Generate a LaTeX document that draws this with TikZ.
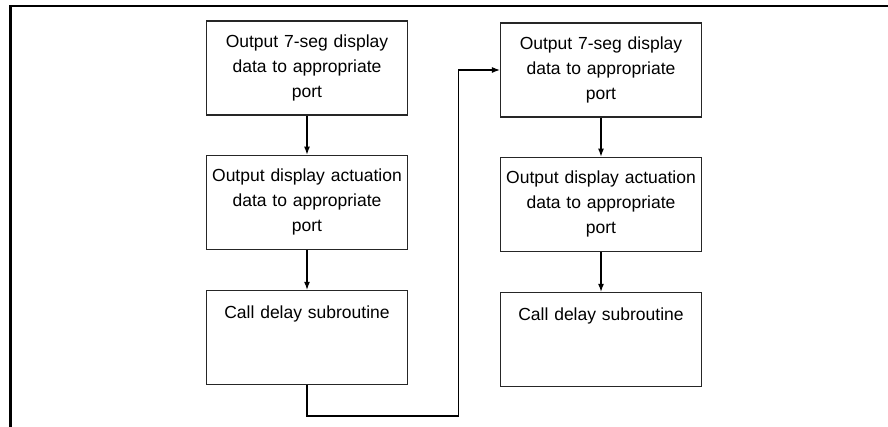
\documentclass[tikz,border=0pt]{standalone}
\usepackage{fontspec}
\setmainfont{Liberation Sans}
\usepackage{tikz}
\usetikzlibrary{arrows.meta,positioning}

\tikzset{
  stepbox/.style={draw=black!85,line width=1.2pt,minimum width=201pt,minimum height=94pt,
    text width=195pt,inner xsep=3pt,align=center,
    font=\fontsize{17.5pt}{25pt}\selectfont},
  flow/.style={->,line width=1.1pt}
}

\begin{document}
\begin{tikzpicture}[x=1pt,y=1pt,node distance=39pt,>={Latex[length=8pt,width=6pt]}]
  \useasboundingbox (0,0) rectangle (888,427);

  % Frame
  \draw[line width=2.5pt] (888,421) -- (10.5,421) -- (10.5,0);

  % Left column
  \node[stepbox] (seg1) at (307,359) {Output 7-seg display\\data to appropriate\\port};
  \node[stepbox,below=of seg1] (act1) {Output display actuation\\data to appropriate\\port};
  \node[stepbox,below=40pt of act1] (delay1) {Call delay subroutine\\\mbox{}\\\mbox{}};

  % Right column
  \node[stepbox] (seg2) at (601,357) {Output 7-seg display\\data to appropriate\\port};
  \node[stepbox,below=of seg2] (act2) {Output display actuation\\data to appropriate\\port};
  \node[stepbox,below=40pt of act2] (delay2) {Call delay subroutine\\\mbox{}\\\mbox{}};

  \draw[flow] (seg1) -- (act1);
  \draw[flow] (act1) -- (delay1);
  \draw[flow] (seg2) -- (act2);
  \draw[flow] (act2) -- (delay2);

  % Loop over to the second column
  \coordinate (turn) at (458.5,11);
  \draw[flow] (delay1.south) |- (turn) |- (seg2.west);
\end{tikzpicture}
\end{document}
